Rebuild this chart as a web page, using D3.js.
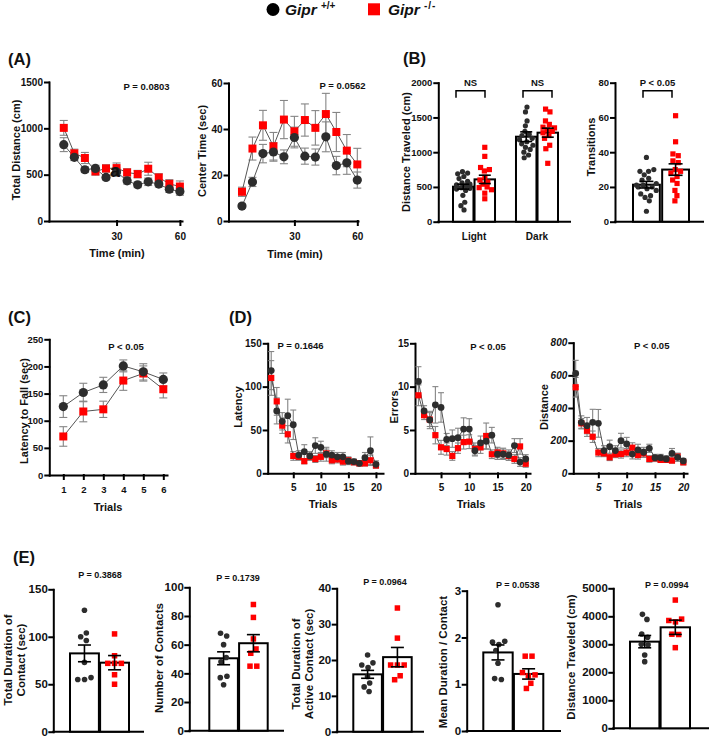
<!DOCTYPE html>
<html>
<head>
<meta charset="utf-8">
<script src="https://cdn.jsdelivr.net/npm/d3@7"></script>
<style>
  body { margin: 0; background: #fff; }
  svg text { font-family: "Liberation Sans", Arial, sans-serif; font-weight: bold; fill: #111; }
</style>
</head>
<body>
<script>
// ---- data ----
// (A) open field, 5 min bins
var timeMin = [5, 10, 15, 20, 25, 30, 35, 40, 45, 50, 55, 60]
var distWT = [824, 687, 553, 567, 470, 530, 434, 390, 423, 398, 343, 318]
var distWTsem = [75, 35, 30, 35, 25, 40, 35, 30, 40, 30, 35, 40]
var distKO = [1005, 730, 680, 535, 567, 571, 524, 506, 564, 470, 401, 372]
var distKOsem = [80, 45, 60, 40, 40, 55, 40, 40, 70, 40, 45, 60]
var centerWT = [6.5, 17, 29.3, 30, 27.9, 36.3, 28.2, 27.8, 36.6, 24.1, 25.3, 17.8]
var centerWTsem = [1, 2, 4, 4, 3, 4.5, 3.5, 3.5, 6.5, 4, 5, 3.5]
var centerKO = [12.7, 31.5, 41.6, 32.5, 44.1, 39, 43.9, 40.5, 46.5, 38.7, 30.6, 24.6]
var centerKOsem = [2, 5, 6.5, 6, 8.3, 6.5, 7, 7.5, 9, 8.5, 7, 7]

// (B) light/dark box
var ldPhases = ["Light", "Dark"]
var ldLightWT = [720, 700, 690, 650, 620, 580, 560, 540, 530, 520, 510, 500, 490, 480, 470, 450, 380, 280, 230, 170]
var ldLightKO = [1070, 940, 780, 750, 730, 640, 600, 570, 540, 500, 490, 460, 410, 330]
var ldDarkWT = [1650, 1580, 1450, 1380, 1300, 1260, 1240, 1200, 1180, 1150, 1120, 1100, 1070, 1040, 1000, 960, 920]
var ldDarkKO = [1620, 1580, 1450, 1400, 1360, 1350, 1320, 1300, 1280, 1240, 1200, 1100, 1050, 840]
var ldMeanWT = [504, 1223], ldSemWT = [35, 70]
var ldMeanKO = [609, 1281], ldSemKO = [60, 65]
var transWT = [37, 30, 29, 29, 27, 25, 24, 22, 21, 21, 20, 20, 19, 18, 16, 15, 14, 12, 6]
var transKO = [61, 46, 39, 38, 35, 34, 30, 29, 28, 26, 24, 22, 18, 15, 12]
var transMean = [21.3, 30.0], transSem = [1.9, 3.3]

// (C) rotarod
var trialsRot = [1, 2, 3, 4, 5, 6]
var rotWT = [126, 152, 166, 201, 190, 176]
var rotWTsem = [20, 17, 14, 11, 15, 12]
var rotKO = [71, 117, 121, 174, 187, 158]
var rotKOsem = [18, 19, 15, 18, 14, 16]

// (D) Barnes maze
var trialsBarnes = [1, 2, 3, 4, 5, 6, 7, 8, 9, 10, 11, 12, 13, 14, 15, 16, 17, 18, 19, 20]
var latWT = [118.5, 72, 60, 66.5, 56, 21, 25, 20, 32, 30, 22, 21, 19, 19, 14, 13.5, 11.5, 18, 26, 10.4]
var latWTsem = [22, 15, 10, 19, 17, 5, 8, 5, 9, 7, 8, 5, 5, 5, 4, 3, 3, 6, 16, 4]
var latKO = [110, 83, 55, 45, 20, 19, 14, 19, 16.5, 19, 23, 15, 16, 13.5, 15, 12.7, 11.5, 11.5, 15, 9]
var latKOsem = [20, 16, 9, 10, 5, 4, 3, 4, 4, 5, 5, 4, 4, 4, 4, 3, 3, 3, 6, 3]
var errWT = [10.6, 7.2, 6.15, 7.9, 7.6, 3.9, 4.0, 4.1, 5.1, 5.1, 2.6, 3.5, 3.7, 4.4, 2.2, 2.2, 2.1, 3.2, 1.3, 1.65]
var errWTsem = [1.7, 0.6, 1.0, 2.1, 1.7, 0.7, 1.0, 1.1, 1.3, 1.2, 0.6, 0.8, 0.9, 0.9, 0.6, 0.6, 0.6, 0.8, 0.5, 0.5]
var errKO = [9.0, 6.7, 6.2, 4.4, 3.0, 2.8, 2.0, 2.9, 3.6, 3.65, 2.8, 3.0, 4.3, 2.2, 2.4, 2.3, 2.0, 1.65, 3.1, 1.1]
var errKOsem = [1.2, 0.5, 0.8, 1.0, 0.8, 0.7, 0.5, 0.6, 0.8, 0.8, 0.7, 0.7, 1.5, 0.5, 0.6, 0.6, 0.5, 0.5, 0.9, 0.4]
var bdWT = [612, 312, 292, 312, 306, 139, 163, 139, 200, 180, 118, 143, 129, 153, 96, 96, 88, 122, 98, 76]
var bdWTsem = [80, 40, 50, 80, 85, 30, 40, 30, 45, 40, 30, 35, 30, 25, 20, 20, 20, 30, 25, 15]
var bdKO = [527, 306, 261, 224, 127, 122, 98, 116, 118, 127, 157, 112, 122, 88, 92, 82, 82, 78, 102, 67]
var bdKOsem = [60, 30, 35, 35, 25, 20, 20, 20, 25, 25, 30, 25, 25, 20, 20, 15, 15, 15, 20, 15]

// (E) social interaction
var durWT = [128, 104, 100, 96, 73, 57, 55, 55]
var durKO = [103, 80, 72, 72, 72, 60, 50]
var numWT = [68, 66, 60, 51, 48, 38, 37, 32]
var numKO = [88, 79, 64, 57, 54, 45, 45]
var actWT = [21.4, 19.2, 18.6, 17.9, 15.4, 13.6, 12.5, 11.2]
var actKO = [34.5, 26.1, 18.6, 18.6, 18.6, 15.6, 14.5]
var mdcWT = [2.7, 1.92, 1.9, 1.85, 1.72, 1.45, 1.12, 1.1]
var mdcKO = [1.6, 1.6, 1.25, 1.2, 1.18, 1.02, 0.91]
var sdistWT = [4070, 3890, 3370, 3250, 3000, 2980, 2620, 2380]
var sdistKO = [4580, 3900, 3850, 3800, 3360, 3350, 2880]
var socMeanWT = [82.5, 50.5, 16.0, 1.68, 3095]
var socSemWT = [8.8, 4.5, 1.1, 0.16, 220]
var socMeanKO = [72.7, 61, 20.8, 1.22, 3607]
var socSemKO = [7.5, 6, 2.7, 0.11, 255]

var WT = "#2d2d2d", KO = "#ff0000"

var svg = d3.select("body").append("svg")
  .attr("width", 709)
  .attr("height", 738)

svg.append("rect").attr("width", 709).attr("height", 738).attr("fill", "#fff")

// legend
svg.append("circle").attr("cx", 273).attr("cy", 9.5).attr("r", 6.5).attr("fill", "#000")
var lg1 = svg.append("text").attr("x", 285).attr("y", 15).attr("font-size", 15.5).attr("font-style", "italic")
lg1.append("tspan").text("Gipr")
lg1.append("tspan").attr("font-size", 10).attr("font-style", "normal").attr("dx", 4).attr("dy", -6).text("+/+")
svg.append("rect").attr("x", 368).attr("y", 3.3).attr("width", 12).attr("height", 12).attr("fill", KO)
var lg2 = svg.append("text").attr("x", 388).attr("y", 15).attr("font-size", 15.5).attr("font-style", "italic")
lg2.append("tspan").text("Gipr")
lg2.append("tspan").attr("font-size", 10).attr("font-style", "normal").attr("dx", 4).attr("dy", -6)
  .attr("letter-spacing", 1).text("-/-")

// panel letters
;[["(A)", 8, 65], ["(B)", 403, 64], ["(C)", 8, 323], ["(D)", 229, 323], ["(E)", 13, 563]].forEach(function(p) {
  svg.append("text").attr("x", p[1]).attr("y", p[2]).attr("font-size", 16.5).text(p[0])
})

function drawAxes(g, x, y, c) {
  g.append("g")
    .attr("transform", "translate(" + c.left + ",0)")
    .call(d3.axisLeft(y).tickValues(c.yTicks).tickSize(4).tickSizeOuter(0)
      .tickPadding(c.yPad || 2).tickFormat(d3.format("d")))
  var xa = g.append("g").attr("transform", "translate(0," + c.bottom + ")")
  if (c.xTicks) {
    xa.call(d3.axisBottom(x).tickValues(c.xTicks).tickSize(4).tickSizeOuter(0)
      .tickPadding(c.xPad || 7).tickFormat(d3.format("d")))
  } else {
    xa.append("path").attr("class", "domain").attr("d", "M" + c.left + ",0H" + c.right)
  }
  g.selectAll(".domain, .tick line")
    .attr("stroke", "#000")
    .attr("stroke-width", 2)
    .attr("stroke-linecap", "square")
    .attr("fill", "none")
  g.selectAll(".tick text")
    .attr("font-size", c.tick)
    .attr("font-style", c.italic ? "italic" : null)
}

function labels(g, c) {
  if (c.p) g.append("text").attr("x", c.p[1]).attr("y", c.p[2]).attr("text-anchor", "middle")
    .attr("font-size", c.pSize || 9.5).text(c.p[0])
  if (c.ylab) {
    var t = g.append("text")
      .attr("transform", "translate(" + c.ylab[1] + "," + c.ylab[2] + ") rotate(-90)")
      .attr("text-anchor", "middle")
      .attr("font-size", c.labSize || 11)
    c.ylab[0].forEach(function(s, i) {
      t.append("tspan").attr("x", 0).attr("y", i * (c.lh || 13)).text(s)
    })
  }
  if (c.xlab) g.append("text").attr("x", c.xlab[1]).attr("y", c.xlab[2]).attr("text-anchor", "middle")
    .attr("font-size", c.labSize || 11).text(c.xlab[0])
}

function lineChart(c) {
  var g = svg.append("g")
  var x = d3.scaleLinear().domain(c.xDomain).range([c.left, c.right])
  var y = d3.scaleLinear().domain(c.yDomain).range([c.bottom, c.top])
  drawAxes(g, x, y, c)

  var series = [
    {vals: c.ko, sem: c.koSem, kind: "ko"},
    {vals: c.wt, sem: c.wtSem, kind: "wt"}
  ]
  // error bars
  series.forEach(function(s) {
    var eb = g.append("g").attr("stroke", "#858585").attr("stroke-width", 1.1)
    s.vals.forEach(function(v, i) {
      var xp = x(c.xs[i]), y1 = y(v - s.sem[i]), y2 = y(v + s.sem[i])
      eb.append("line").attr("x1", xp).attr("x2", xp).attr("y1", y1).attr("y2", y2)
      eb.append("line").attr("x1", xp - c.cap).attr("x2", xp + c.cap).attr("y1", y1).attr("y2", y1)
      eb.append("line").attr("x1", xp - c.cap).attr("x2", xp + c.cap).attr("y1", y2).attr("y2", y2)
    })
  })
  var line = d3.line().x(function(d, i) { return x(c.xs[i]) }).y(function(d) { return y(d) })
  series.forEach(function(s) {
    g.append("path").datum(s.vals).attr("d", line)
      .attr("fill", "none").attr("stroke", "#555").attr("stroke-width", 1)
  })
  g.selectAll(".sq").data(c.ko).enter().append("rect")
    .attr("x", function(d, i) { return x(c.xs[i]) - c.sq / 2 })
    .attr("y", function(d) { return y(d) - c.sq / 2 })
    .attr("width", c.sq).attr("height", c.sq)
    .attr("fill", KO)
  g.selectAll(".dot").data(c.wt).enter().append("circle")
    .attr("cx", function(d, i) { return x(c.xs[i]) })
    .attr("cy", function(d) { return y(d) })
    .attr("r", c.r)
    .attr("fill", WT)
  labels(g, c)
  return g
}

// beeswarm-like spread kept inside the bar
function swarm(vals, cx, y, rad, lim) {
  var nodes = vals.map(function(v, i) {
    return {x: cx + (i % 2 ? 1 : -1) * (i % 3), y: y(v), fy: y(v)}
  })
  d3.forceSimulation(nodes)
    .force("x", d3.forceX(cx).strength(0.2))
    .force("c", d3.forceCollide(rad))
    .stop()
    .tick(160)
  nodes.forEach(function(n) { n.x = Math.max(cx - lim, Math.min(cx + lim, n.x)) })
  return nodes
}

function barChart(c) {
  var g = svg.append("g")
  var y = d3.scaleLinear().domain(c.yDomain).range([c.bottom, c.top])
  var outer = d3.scaleBand().domain(c.groups.map(function(d) { return d.name }))
    .range(c.range).paddingInner(c.outerPad || 0)
  var inner = d3.scaleBand().domain(["wt", "ko"]).range([0, outer.bandwidth()])
    .paddingInner(c.innerPad)
  drawAxes(g, null, y, c)
  var bw = inner.bandwidth()

  c.groups.forEach(function(grp) {
    ["wt", "ko"].forEach(function(k) {
      var x0 = outer(grp.name) + inner(k)
      var m = grp[k + "Mean"], s = grp[k + "Sem"]
      g.append("rect").attr("x", x0).attr("y", y(m))
        .attr("width", bw).attr("height", c.bottom - y(m))
        .attr("fill", "#fff").attr("stroke", "#000").attr("stroke-width", 2)
      var cx = x0 + bw / 2
      var pts = swarm(grp[k], cx, y, c.coll || 3, bw / 2 - 3.5)
      if (k == "wt") {
        g.selectAll(null).data(pts).enter().append("circle")
          .attr("cx", function(d) { return d.x }).attr("cy", function(d) { return d.y })
          .attr("r", c.r).attr("fill", WT)
      } else {
        g.selectAll(null).data(pts).enter().append("rect")
          .attr("x", function(d) { return d.x - c.sq / 2 }).attr("y", function(d) { return d.y - c.sq / 2 })
          .attr("width", c.sq).attr("height", c.sq).attr("fill", KO)
      }
      var eb = g.append("g").attr("stroke", "#000").attr("stroke-width", 1.6)
      var y1 = y(m - s), y2 = y(m + s)
      eb.append("line").attr("x1", cx).attr("x2", cx).attr("y1", y1).attr("y2", y2)
      eb.append("line").attr("x1", cx - c.capW / 2).attr("x2", cx + c.capW / 2).attr("y1", y1).attr("y2", y1)
      eb.append("line").attr("x1", cx - c.capW / 2).attr("x2", cx + c.capW / 2).attr("y1", y2).attr("y2", y2)
    })
    if (c.catY) {
      g.append("text").attr("x", outer(grp.name) + outer.bandwidth() / 2).attr("y", c.catY)
        .attr("text-anchor", "middle").attr("font-size", 10).text(grp.name)
    }
  })
  ;(c.brackets || []).forEach(function(b) {
    g.append("path")
      .attr("d", "M" + b[0] + "," + (b[2] + 7) + "V" + b[2] + "H" + b[1] + "V" + (b[2] + 7))
      .attr("fill", "none").attr("stroke", "#000").attr("stroke-width", 1.5)
    g.append("text").attr("x", (b[0] + b[1]) / 2).attr("y", b[2] - 4.5)
      .attr("text-anchor", "middle").attr("font-size", 9.5).text(b[3])
  })
  labels(g, c)
  return g
}

// ---- (A) ----
lineChart({left: 49, right: 182, top: 82, bottom: 221, xDomain: [-2, 61], yDomain: [0, 1500],
  yTicks: [0, 500, 1000, 1500], xTicks: [30, 60], xs: timeMin,
  wt: distWT, wtSem: distWTsem, ko: distKO, koSem: distKOsem,
  r: 4.6, sq: 8, cap: 4, tick: 10, xPad: 8,
  p: ["P = 0.0803", 146.5, 89.5], ylab: [["Total Distance (cm)"], 20, 150], xlab: ["Time (min)", 117, 257]})
// stray glyph present in the original figure
svg.append("text").attr("x", 110).attr("y", 177).attr("font-size", 18).text("a")

lineChart({left: 228.5, right: 358, top: 83, bottom: 221, xDomain: [-1.43, 60.33], yDomain: [0, 60],
  yTicks: [0, 20, 40, 60], xTicks: [30, 60], xs: timeMin,
  wt: centerWT, wtSem: centerWTsem, ko: centerKO, koSem: centerKOsem,
  r: 4.6, sq: 8, cap: 4, tick: 10, xPad: 8,
  p: ["P = 0.0562", 342.5, 89], ylab: [["Center Time (sec)"], 206, 151], xlab: ["Time (min)", 295, 258]})

// ---- (B) ----
barChart({left: 438.3, right: 570, top: 82.7, bottom: 221.7, yDomain: [0, 2000],
  yTicks: [0, 500, 1000, 1500, 2000], tick: 9.5, range: [453, 558], outerPad: 0.333, innerPad: 0.05,
  groups: ldPhases.map(function(n, i) {
    return {name: n, wt: i ? ldDarkWT : ldLightWT, ko: i ? ldDarkKO : ldLightKO,
      wtMean: ldMeanWT[i], wtSem: ldSemWT[i], koMean: ldMeanKO[i], koSem: ldSemKO[i]}
  }),
  r: 2.6, sq: 5.2, coll: 2.6, capW: 12, catY: 240,
  brackets: [[456, 485, 90.7, "NS"], [523, 552, 90.7, "NS"]],
  ylab: [["Distance Traveled (cm)"], 410, 152]})

barChart({left: 615, right: 703, top: 82.7, bottom: 221.7, yDomain: [0, 80],
  yTicks: [0, 20, 40, 60, 80], tick: 9.5, range: [633, 689], innerPad: 0.08,
  groups: [{name: "Transitions", wt: transWT, ko: transKO,
    wtMean: transMean[0], wtSem: transSem[0], koMean: transMean[1], koSem: transSem[1]}],
  r: 2.6, sq: 5.2, coll: 2.8, capW: 14,
  brackets: [[643, 672, 90.7, "P < 0.05"]],
  ylab: [["Transitions"], 595, 147]})

// ---- (C) ----
lineChart({left: 49.3, right: 167, top: 339.3, bottom: 475, xDomain: [0.3, 6.185], yDomain: [0, 250],
  yTicks: [0, 50, 100, 150, 200, 250], xTicks: trialsRot, xs: trialsRot,
  wt: rotWT, wtSem: rotWTsem, ko: rotKO, koSem: rotKOsem,
  r: 4.6, sq: 8, cap: 4, tick: 9.5, xPad: 7.5,
  p: ["P < 0.05", 126, 349.5], ylab: [["Latency to Fall (sec)"], 28, 411], xlab: ["Trials", 108, 511]})

// ---- (D) ----
lineChart({left: 267.7, right: 383, top: 343.3, bottom: 473.3, xDomain: [0.36, 21.28], yDomain: [0, 150],
  yTicks: [0, 50, 100, 150], xTicks: [5, 10, 15, 20], xs: trialsBarnes,
  wt: latWT, wtSem: latWTsem, ko: latKO, koSem: latKOsem,
  r: 3.4, sq: 6.2, cap: 3, tick: 10, xPad: 7,
  p: ["P = 0.1646", 300.5, 349], ylab: [["Latency"], 241.5, 407], xlab: ["Trials", 323, 508]})

lineChart({left: 415, right: 530, top: 343.3, bottom: 473.3, xDomain: [0.39, 20.76], yDomain: [0, 15],
  yTicks: [0, 5, 10, 15], xTicks: [5, 10, 15, 20], xs: trialsBarnes,
  wt: errWT, wtSem: errWTsem, ko: errKO, koSem: errKOsem,
  r: 3.4, sq: 6.2, cap: 3, tick: 10, xPad: 7,
  p: ["P < 0.05", 488, 349.5], ylab: [["Errors"], 398, 407], xlab: ["Trials", 471, 508]})

lineChart({left: 573.3, right: 687, top: 342.7, bottom: 473.3, xDomain: [0.58, 20.65], yDomain: [0, 800],
  yTicks: [0, 200, 400, 600, 800], xTicks: [5, 10, 15, 20], xs: trialsBarnes, italic: true,
  wt: bdWT, wtSem: bdWTsem, ko: bdKO, koSem: bdKOsem,
  r: 3.4, sq: 6.2, cap: 3, tick: 10, xPad: 7,
  p: ["P < 0.05", 651.7, 349], ylab: [["Distance"], 548, 407], xlab: ["Trials", 628, 508]})

// ---- (E) ----
var socCharts = [
  {left: 53.3, right: 143, top: 589.3, bottom: 731.7, yDomain: [0, 150], yTicks: [0, 50, 100, 150],
    range: [70, 129], wt: durWT, ko: durKO, p: ["P = 0.3868", 100, 578],
    ylab: [["Total Duration of", "Contact (sec)"], 12, 660]},
  {left: 189.3, right: 283, top: 587.3, bottom: 730.7, yDomain: [0, 100], yTicks: [0, 20, 40, 60, 80, 100],
    range: [209.3, 267.7], wt: numWT, ko: numKO, p: ["P = 0.1739", 238, 581],
    ylab: [["Number of Contacts"], 163, 658]},
  {left: 336.7, right: 423, top: 588.3, bottom: 731.7, yDomain: [0, 40], yTicks: [0, 10, 20, 30, 40],
    range: [353.3, 411.7], wt: actWT, ko: actKO, p: ["P = 0.0964", 385, 585],
    ylab: [["Total Duration of", "Active Contact (sec)"], 300, 664]},
  {left: 466.7, right: 560, top: 590.7, bottom: 731, yDomain: [0, 3], yTicks: [0, 1, 2, 3],
    range: [483.3, 543.3], wt: mdcWT, ko: mdcKO, p: ["P = 0.0538", 517.7, 588],
    ylab: [["Mean Duration / Contact"], 447, 662]},
  {left: 613.3, right: 708, top: 588.3, bottom: 728.3, yDomain: [0, 5000], yTicks: [0, 1000, 2000, 3000, 4000, 5000],
    range: [630, 690], wt: sdistWT, ko: sdistKO, p: ["P = 0.0994", 666.7, 588],
    ylab: [["Distance Traveled (cm)"], 575, 657]}
]
socCharts.forEach(function(c, i) {
  c.tick = 11.5
  c.yPad = 1.5
  c.innerPad = 0.04
  c.groups = [{name: "g", wt: c.wt, ko: c.ko,
    wtMean: socMeanWT[i], wtSem: socSemWT[i], koMean: socMeanKO[i], koSem: socSemKO[i]}]
  c.r = 2.8
  c.sq = 5.5
  c.coll = 3.4
  c.capW = 13
  c.pSize = 9
  c.labSize = 11.5
  barChart(c)
})
</script>
</body>
</html>
